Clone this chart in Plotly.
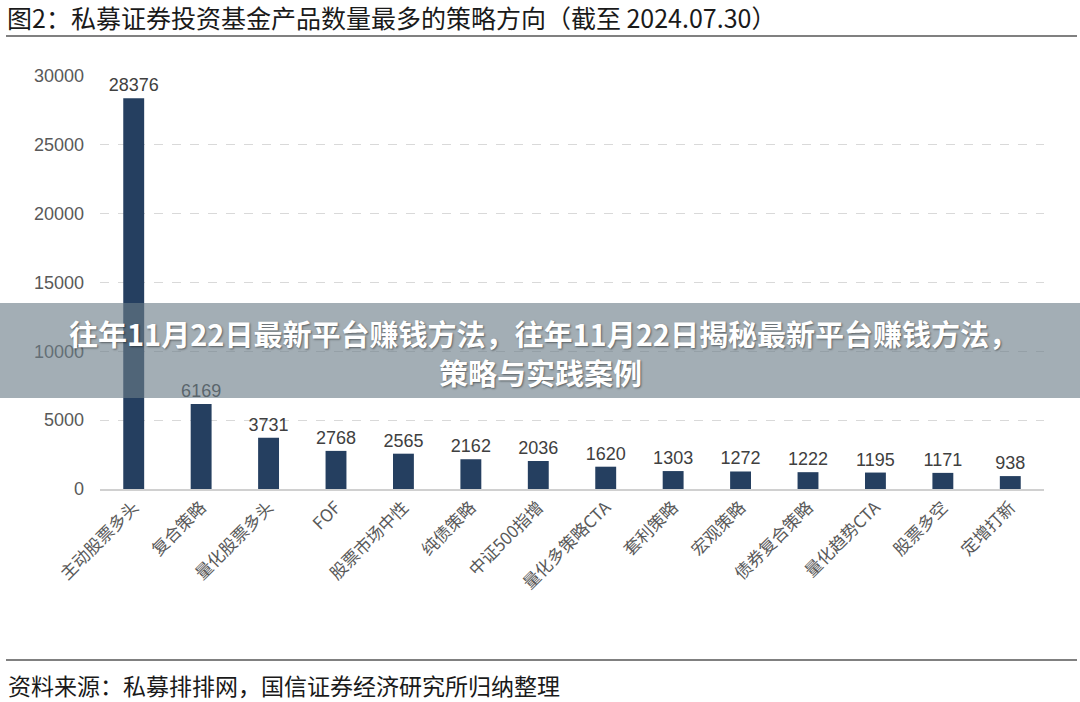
import plotly.graph_objects as go

categories = ["主动股票多头", "复合策略", "量化股票多头", "FOF", "股票市场中性", "纯债策略",
              "中证500指增", "量化多策略CTA", "套利策略", "宏观策略", "债券复合策略",
              "量化趋势CTA", "股票多空", "定增打新"]
values = [28376, 6169, 3731, 2768, 2565, 2162, 2036, 1620, 1303, 1272, 1222, 1195, 1171, 938]
y_ticks = [0, 5000, 10000, 15000, 20000, 25000, 30000]

title_text = "图2：私募证券投资基金产品数量最多的策略方向（截至 2024.07.30）"
source_text = "资料来源：私募排排网，国信证券经济研究所归纳整理"
banner_line1 = "往年11月22日最新平台赚钱方法，往年11月22日揭秘最新平台赚钱方法，"
banner_line2 = "策略与实践案例"

W, H = 1080, 702
L, R, T, B = 100, 36, 76, 213
pw, ph = W - L - R, H - T - B

def px(x):
    return (x - L) / pw

def py(y):
    return (H - B - y) / ph

FONT = "Noto Sans CJK SC, Noto Sans, sans-serif"
NUMFONT = "Liberation Sans, Arial, sans-serif"

fig = go.Figure()
fig.add_trace(go.Bar(
    x=categories, y=values,
    marker=dict(color="#253F60", line=dict(width=0)),
    text=[str(v) for v in values], textposition="outside", constraintext="none",
    textfont=dict(size=18, color="#404040", family=NUMFONT),
    cliponaxis=False,
))

shapes = [
    dict(type="line", xref="paper", yref="paper", x0=px(6), x1=px(1077), y0=py(36), y1=py(36),
         line=dict(color="#808080", width=2)),
    dict(type="line", xref="paper", yref="paper", x0=px(6), x1=px(1077), y0=py(660), y1=py(660),
         line=dict(color="#808080", width=2)),
    dict(type="rect", xref="paper", yref="paper", x0=px(0), x1=px(1080), y0=py(398), y1=py(303),
         fillcolor="rgba(106,125,135,0.62)", line=dict(width=0), layer="above"),
]

annotations = [
    dict(text=title_text, xref="paper", yref="paper", x=px(5), y=py(17), xanchor="left", yanchor="middle",
         showarrow=False, font=dict(size=25, color="#1a1a1a", family=FONT)),
    dict(text=source_text, xref="paper", yref="paper", x=px(6), y=py(685), xanchor="left", yanchor="middle",
         showarrow=False, font=dict(size=23, color="#1a1a1a", family=FONT)),
    dict(text="<b>" + banner_line1 + "</b>", xref="paper", yref="paper", x=px(543), y=py(333),
         xanchor="center", yanchor="middle", showarrow=False,
         font=dict(size=29, color="#ffffff", family=FONT, shadow="1px 1px 2px rgba(0,0,0,0.45)")),
    dict(text="<b>" + banner_line2 + "</b>", xref="paper", yref="paper", x=px(540), y=py(372),
         xanchor="center", yanchor="middle", showarrow=False,
         font=dict(size=29, color="#ffffff", family=FONT, shadow="1px 1px 2px rgba(0,0,0,0.45)")),
]

fig.update_layout(
    width=W, height=H,
    margin=dict(l=L, r=R, t=T, b=B, autoexpand=False),
    paper_bgcolor="white", plot_bgcolor="white",
    showlegend=False, bargap=0.69,
    shapes=shapes, annotations=annotations,
    xaxis=dict(tickangle=-45, tickfont=dict(size=17, color="#595959", family=FONT),
               showline=True, linecolor="#d0d0d0", linewidth=1.5, showgrid=False,
               ticks="", range=[-0.5, 13.5]),
    yaxis=dict(range=[0, 30000], tickvals=y_ticks, ticktext=[str(v) for v in y_ticks],
               tickfont=dict(size=18, color="#595959", family=NUMFONT),
               showgrid=True, gridcolor="#d9d9d9", griddash="dash", gridwidth=1,
               zeroline=False, showline=False, ticks="", ticklabelstandoff=15),
)

fig.write_html("out.html")
